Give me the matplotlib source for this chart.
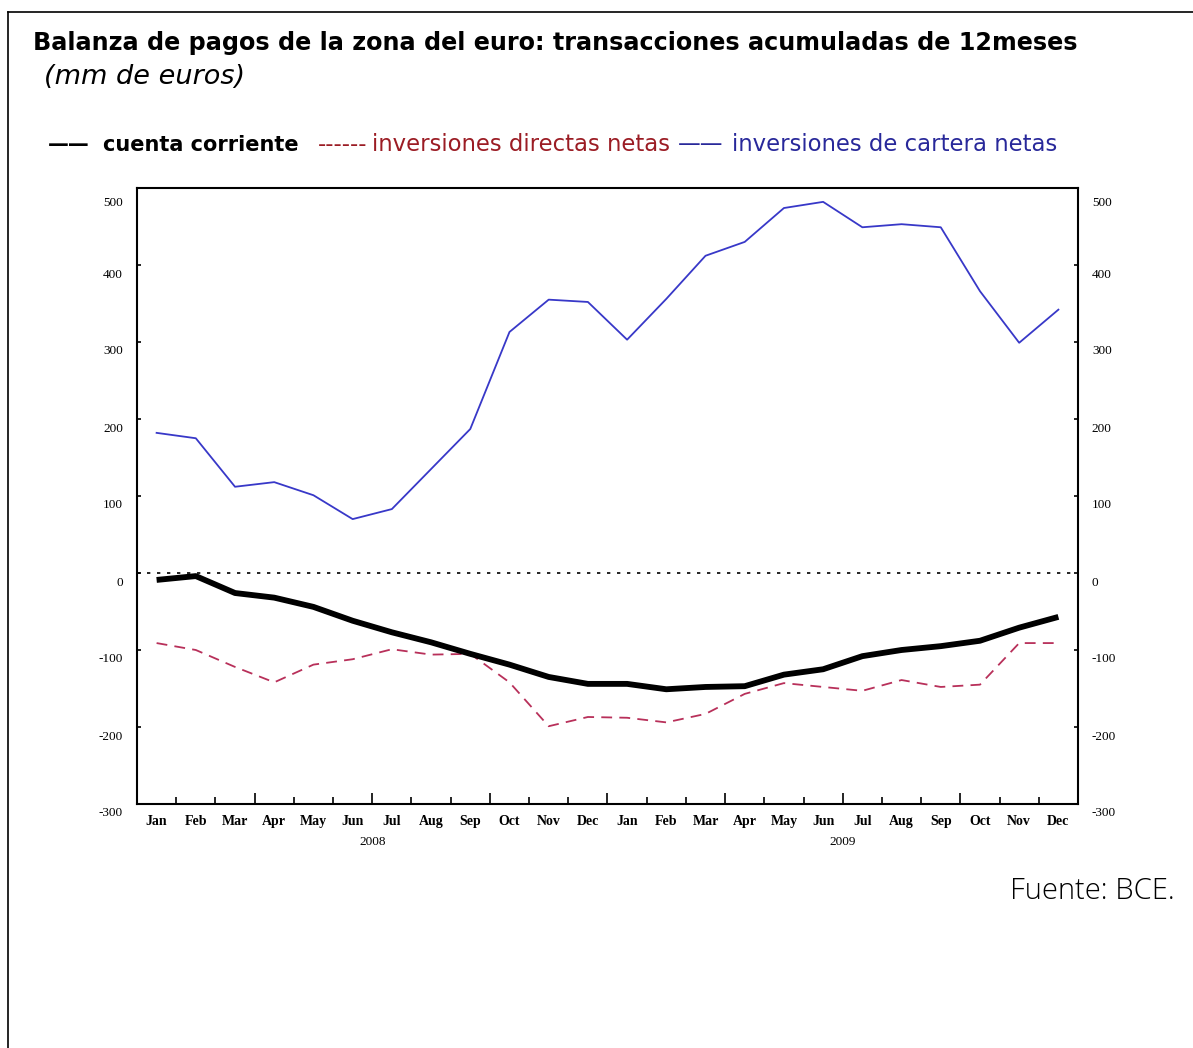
import numpy as np
import matplotlib.pyplot as plt
import matplotlib.transforms as mtransforms

plt.rcParams['axes.unicode_minus'] = False

# meses (ene 2008 - dic 2009)
meses = ['Jan', 'Feb', 'Mar', 'Apr', 'May', 'Jun', 'Jul', 'Aug', 'Sep', 'Oct', 'Nov', 'Dec'] * 2
anios = ['2008', '2009']

# cuenta corriente
cuenta_corriente = [-9, -4, -26, -32, -44, -62, -77, -90, -105, -119, -135, -144,
                    -144, -151, -148, -147, -132, -125, -108, -100, -95, -88, -71, -57]
# inversiones directas netas
inv_directas = [-91, -100, -122, -142, -119, -112, -99, -106, -105, -142, -199, -187,
                -188, -194, -183, -157, -143, -148, -153, -139, -148, -145, -91, -91]
# inversiones de cartera netas
inv_cartera = [182, 175, 112, 118, 101, 70, 83, 135, 187, 313, 355, 352,
               303, 356, 412, 430, 474, 482, 449, 453, 449, 366, 299, 342]

y_ticks = [-300, -200, -100, 0, 100, 200, 300, 400, 500]

W, H = 1193, 1048
fig = plt.figure(figsize=(W / 100, H / 100), dpi=100)


def px(x, y):
    return x / W, 1 - y / H


# marco de la figura (arriba e izquierda)
fig.add_artist(plt.Line2D([8 / W, 1.0], [1 - 12 / H, 1 - 12 / H], color='black', lw=1.2))
fig.add_artist(plt.Line2D([8 / W, 8 / W], [0, 1 - 12 / H], color='black', lw=1.2))

# titulos
fig.text(*px(33, 43), 'Balanza de pagos de la zona del euro: transacciones acumuladas de 12meses',
         fontsize=17.2, fontweight='bold', family='DejaVu Sans', va='center', ha='left')
fig.text(*px(44, 77), '(mm de euros)', fontsize=19.5, style='italic', family='DejaVu Sans',
         va='center', ha='left')

# leyenda como texto
ley = [
    (48, '——', 'black', 'bold', 15),
    (103, 'cuenta corriente', 'black', 'bold', 15),
    (318, '------', '#9b1c24', 'normal', 16.4),
    (372, 'inversiones directas netas', '#9b1c24', 'normal', 16.4),
    (678, '——', '#28289a', 'normal', 16.4),
    (732, 'inversiones de cartera netas', '#28289a', 'normal', 16.4),
]
for xx, txt, col, fw, fs in ley:
    fig.text(*px(xx, 145), txt, fontsize=fs, fontweight=fw, family='DejaVu Sans',
             va='center', ha='left', color=col)

fig.text(*px(1175, 891), 'Fuente: BCE.', fontsize=21, family='Open Sans',
         fontweight='light', va='center', ha='right')

ax = fig.add_axes([137 / W, 1 - 804 / H, (1078 - 137) / W, (804 - 188) / H])
x = np.arange(len(meses))

ax.axhline(0, color='black', lw=1.2, ls=(0, (2, 4)))
ax.plot(x, inv_cartera, color='#3838c8', lw=1.3)
ax.plot(x, inv_directas, color='#b8305a', lw=1.3, ls=(0, (6, 4)))
ax.plot(x, cuenta_corriente, color='black', lw=4.2, solid_capstyle='butt')

ax.set_xlim(-0.5, len(meses) - 0.5)
ax.set_ylim(-300, 500)

for s in ax.spines.values():
    s.set_linewidth(1.5)

# eje y a ambos lados, etiquetas algo por debajo de la marca
ax.set_yticks(y_ticks)
ax.tick_params(axis='y', direction='in', length=3, width=1.2, left=True, right=True,
               labelleft=True, labelright=True, labelsize=9.5, pad=10)
for v, t in zip(y_ticks, ax.yaxis.get_major_ticks()):
    dy = -14 if v == y_ticks[-1] else -8
    offset = mtransforms.ScaledTranslation(0, dy / 100, fig.dpi_scale_trans)
    for lab in (t.label1, t.label2):
        lab.set_family('Liberation Serif')
        lab.set_transform(lab.get_transform() + offset)

# eje x: marcas en los limites de mes, etiquetas en el centro
limites = np.arange(0.5, len(meses) - 0.5, 1.0)
largos = [b for b in limites if (b + 0.5) % 3 == 0]
cortos = [b for b in limites if (b + 0.5) % 3 != 0]
ax.set_xticks(largos)
ax.set_xticklabels([])
ax.tick_params(axis='x', which='major', direction='in', length=8, width=1.2)
ax.set_xticks(cortos, minor=True)
ax.tick_params(axis='x', which='minor', direction='in', length=5, width=1.2)

for i, m in enumerate(meses):
    ax.text(i, -0.018, m, transform=ax.get_xaxis_transform(), ha='center', va='top',
            fontsize=10, family='Liberation Serif', fontweight='bold')
for k, a in enumerate(anios):
    ax.text(5.5 + 12 * k, -0.052, a, transform=ax.get_xaxis_transform(), ha='center', va='top',
            fontsize=9.5, family='Liberation Serif')

fig.savefig('out.png', dpi=100)
